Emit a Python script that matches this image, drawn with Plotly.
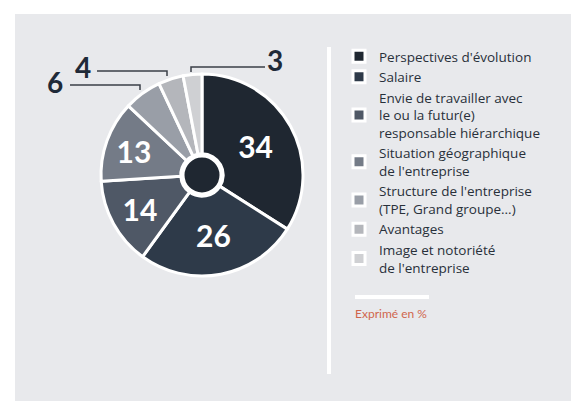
import plotly.graph_objects as go

# page body has an 8px margin; figure is sized to fill the rest of the 579x401 window
OFF = 8
W, H = 579 - OFF, 401 - OFF

labels = [
    "Perspectives d'évolution",
    "Salaire",
    "Envie de travailler avec<br>le ou la futur(e)<br>responsable hiérarchique",
    "Situation géographique<br>de l'entreprise",
    "Structure de l'entreprise<br>(TPE, Grand groupe...)",
    "Avantages",
    "Image et notoriété<br>de l'entreprise",
]
values = [34, 26, 14, 13, 6, 4, 3]
colors = ["#1f2731", "#2e3a49", "#4f5866", "#747b87", "#999ea7", "#b4b6bb", "#cfd0d3"]
note_text = "Exprimé en %"


def px(x):
    return (x - OFF) / W


def py(y):
    return 1 - (y - OFF) / H


inside_text = [str(v) if v >= 10 else "" for v in values]

cx, cy, r = 202, 175, 101
fig = go.Figure()
fig.add_trace(go.Pie(
    labels=labels, values=values, text=inside_text,
    textinfo="text", textposition="inside", insidetextorientation="horizontal",
    textfont=dict(family="Lato", size=30, color="white", weight="bold"),
    marker=dict(colors=colors, line=dict(color="white", width=3)),
    sort=False, direction="clockwise", rotation=0, hole=0.21,
    domain=dict(x=[px(cx - r), px(cx + r)], y=[py(cy + r), py(cy - r)]),
    hoverinfo="label+value", showlegend=True,
))
hr = 19
fig.add_trace(go.Pie(
    labels=["centre"], values=[1], textinfo="none",
    marker=dict(colors=["#1f2731"], line=dict(color="white", width=3)),
    domain=dict(x=[px(cx - hr), px(cx + hr)], y=[py(cy + hr), py(cy - hr)]),
    showlegend=False, hoverinfo="skip", sort=False,
))

shapes = [
    dict(type="rect", xref="paper", yref="paper", x0=px(15), x1=1, y0=0, y1=py(14),
         fillcolor="#e8e9ec", line_width=0, layer="below"),
    dict(type="rect", xref="paper", yref="paper", x0=px(327), x1=px(331), y0=py(374), y1=py(47),
         fillcolor="white", line_width=0, layer="below"),
    dict(type="rect", xref="paper", yref="paper", x0=px(355), x1=px(429), y0=py(299), y1=py(295),
         fillcolor="white", line_width=0, layer="below"),
]
# leader lines for small slices
leaders = [
    [(70, 85), (140, 85), (140, 90)],
    [(97, 71), (167, 71), (167, 76)],
    [(265, 67), (191, 67), (191, 72)],
]
for pts in leaders:
    path = "M " + " L ".join(f"{px(x)},{py(y)}" for x, y in pts)
    shapes.append(dict(type="path", xref="paper", yref="paper", path=path,
                       line=dict(color="#3a3f47", width=1.5), layer="above"))

small_pos = [(55, 82), (83, 67), (275, 60)]
annotations = []
for v, (x, y) in zip(values[4:], small_pos):
    annotations.append(dict(x=px(x), y=py(y), xref="paper", yref="paper", text=str(v),
                            showarrow=False, xanchor="center", yanchor="middle",
                            font=dict(family="Lato", size=28, color="#1f2a38", weight="bold")))
annotations.append(dict(x=px(353), y=py(313), xref="paper", yref="paper", text=note_text,
                        showarrow=False, xanchor="left", yanchor="middle",
                        font=dict(family="Lato", size=12, color="#d0664c")))

fig.update_layout(
    width=W, height=H, margin=dict(l=0, r=0, t=0, b=0),
    paper_bgcolor="white",
    shapes=shapes, annotations=annotations,
    legend=dict(x=(339 - OFF) / W, y=py(41), xanchor="left", yanchor="top",
                bgcolor="rgba(0,0,0,0)", font=dict(family="Open Sans", size=13.5, color="#28303a"),
                tracegroupgap=0),
)
fig.write_html("out.html")
